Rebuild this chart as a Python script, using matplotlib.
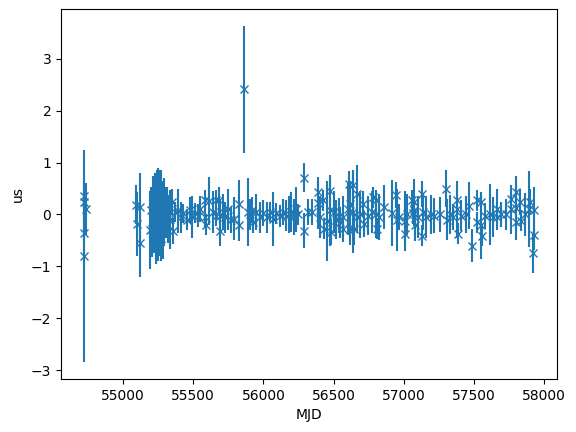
import matplotlib
matplotlib.use('Agg')
import matplotlib.pyplot as plt

# timing residuals (MJD, residual [us], error [us])
mjd = [
    54720, 54721, 54722, 54723, 54735,
    55093, 55102, 55120, 55121,
    55192, 55200, 55208, 55215, 55222, 55229, 55235, 55241, 55247, 55252,
    55257, 55262, 55266, 55270, 55274, 55279, 55284, 55289, 55294, 55299,
    55305, 55311, 55318, 55326,
    55338, 55350, 55355, 55370, 55395, 55412, 55430, 55455, 55475, 55492,
    55510, 55535, 55550, 55582, 55584, 55588, 55610, 55641, 55660, 55665,
    55686, 55688, 55690, 55710, 55725, 55745, 55770, 55794, 55825, 55828,
    55863, 55889, 55905, 55920, 55925, 55950, 55975, 56000, 56025, 56045,
    56067, 56090, 56115, 56140, 56160,
    56180, 56200, 56215, 56232, 56250, 56286, 56288, 56315, 56345, 56386,
    56390, 56400, 56428, 56431, 56452, 56473, 56475, 56478, 56500, 56515,
    56540, 56545, 56565, 56570, 56600, 56608,
    56615, 56620, 56638, 56640, 56642, 56665, 56668, 56690, 56710, 56715,
    56745, 56775, 56778, 56800, 56803, 56806, 56825, 56860, 56918, 56946,
    56950, 56965, 57005, 57008, 57020, 57060, 57062,
    57070, 57073, 57076, 57100, 57130, 57132, 57140, 57160, 57190, 57215,
    57255, 57303, 57305, 57330, 57350, 57380, 57382, 57385, 57410, 57440,
    57465, 57485, 57520, 57522,
    57551, 57552, 57555, 57575, 57615, 57635, 57660, 57665, 57690, 57725,
    57764, 57766, 57797, 57799, 57801, 57828, 57832, 57860, 57891, 57895,
    57922, 57925, 57930,
]
res = [
    -0.35, -0.80, 0.35, 0.25, 0.10,
    0.19, -0.18, 0.14, -0.55,
    -0.29, 0.08, -0.27, 0.15, -0.05, 0.35, -0.40, 0.45, 0.10, -0.20,
    0.50, 0.25, -0.10, -0.45, 0.40, 0.05, -0.30, 0.20, -0.15, 0.12,
    -0.05, 0.18, -0.20, 0.08,
    -0.09, 0.24, -0.31, 0.05, 0.07, -0.05, 0.02, -0.10, 0.08, -0.05,
    0.03, -0.02, 0.10, 0.27, -0.05, -0.20, 0.26, 0.05, 0.27, -0.03,
    0.27, -0.02, -0.31, 0.05, -0.05, 0.10, -0.10, -0.08, 0.21, -0.21,
    2.41, 0.05, 0.00, 0.08, -0.15, 0.05, -0.05, 0.03, -0.05, 0.05,
    -0.08, 0.02, -0.03, 0.05, -0.02,
    0.00, 0.05, -0.05, 0.10, 0.00, 0.71, -0.31, 0.05, 0.05, 0.23,
    0.43, -0.05, 0.27, -0.28, -0.12, 0.08, 0.46, -0.34, 0.05, -0.10,
    -0.02, -0.15, -0.05, -0.28, 0.10, 0.59,
    -0.28, 0.20, 0.05, 0.56, -0.28, 0.40, -0.05, 0.00, 0.20, -0.18,
    -0.02, 0.05, 0.33, 0.00, 0.27, -0.27, -0.05, 0.14, 0.03, 0.37,
    -0.10, -0.05, -0.12, -0.37, 0.00, 0.27, 0.02,
    0.24, 0.08, -0.21, -0.05, 0.40, -0.41, 0.05, -0.05, 0.00, -0.02,
    0.00, 0.50, -0.10, 0.00, -0.05, 0.10, 0.27, -0.37, -0.02, 0.00,
    0.17, -0.60, 0.27, -0.15,
    -0.21, 0.24, -0.41, -0.02, 0.00, -0.05, 0.10, -0.05, 0.00, 0.00,
    0.10, 0.30, 0.12, 0.43, -0.15, 0.24, -0.12, 0.00, 0.10, 0.24,
    -0.75, -0.39, 0.08,
]
err = [
    0.40, 2.04, 0.25, 0.30, 0.50,
    0.38, 0.62, 0.65, 0.66,
    0.75, 0.45, 0.55, 0.60, 0.70, 0.45, 0.55, 0.40, 0.80, 0.70,
    0.35, 0.60, 0.70, 0.45, 0.45, 0.60, 0.55, 0.50, 0.45, 0.40,
    0.40, 0.35, 0.35, 0.30,
    0.57, 0.25, 0.25, 0.20, 0.43, 0.30, 0.18, 0.20, 0.25, 0.40,
    0.20, 0.22, 0.25, 0.20, 0.20, 0.20, 0.47, 0.40, 0.20, 0.20,
    0.25, 0.30, 0.30, 0.35, 0.30, 0.40, 0.25, 0.42, 0.45, 0.30,
    1.22, 0.66, 0.30, 0.25, 0.20, 0.35, 0.30, 0.25, 0.30, 0.20,
    0.52, 0.20, 0.22, 0.25, 0.30,
    0.35, 0.38, 0.35, 0.43, 0.20, 0.28, 0.33, 0.25, 0.25, 0.50,
    0.20, 0.40, 0.20, 0.20, 0.77, 0.68, 0.25, 0.25, 0.40, 0.38,
    0.33, 0.30, 0.40, 0.25, 0.50, 0.25,
    0.30, 0.45, 0.80, 0.25, 0.30, 0.55, 0.30, 0.45, 0.25, 0.25,
    0.37, 0.40, 0.20, 0.45, 0.20, 0.20, 0.45, 0.42, 0.63, 0.25,
    0.60, 0.25, 0.58, 0.20, 0.40, 0.20, 0.20,
    0.45, 0.30, 0.30, 0.40, 0.25, 0.20, 0.35, 0.40, 0.38, 0.33,
    0.33, 0.35, 0.40, 0.37, 0.25, 0.55, 0.20, 0.20, 0.30, 0.35,
    0.45, 0.32, 0.20, 0.20,
    0.64, 0.20, 0.20, 0.25, 0.58, 0.38, 0.40, 0.20, 0.25, 0.30,
    0.47, 0.20, 0.62, 0.20, 0.20, 0.25, 0.20, 0.42, 0.73, 0.25,
    0.38, 0.30, 0.45,
]

fig = plt.figure(figsize=(5.76, 4.32), dpi=100)
fig.subplots_adjust(left=0.106, right=0.967, top=0.979, bottom=0.123)
plt.errorbar(mjd, res, yerr=err, fmt='x')
plt.xlabel('MJD')
plt.ylabel('us')
plt.savefig('out.png')
